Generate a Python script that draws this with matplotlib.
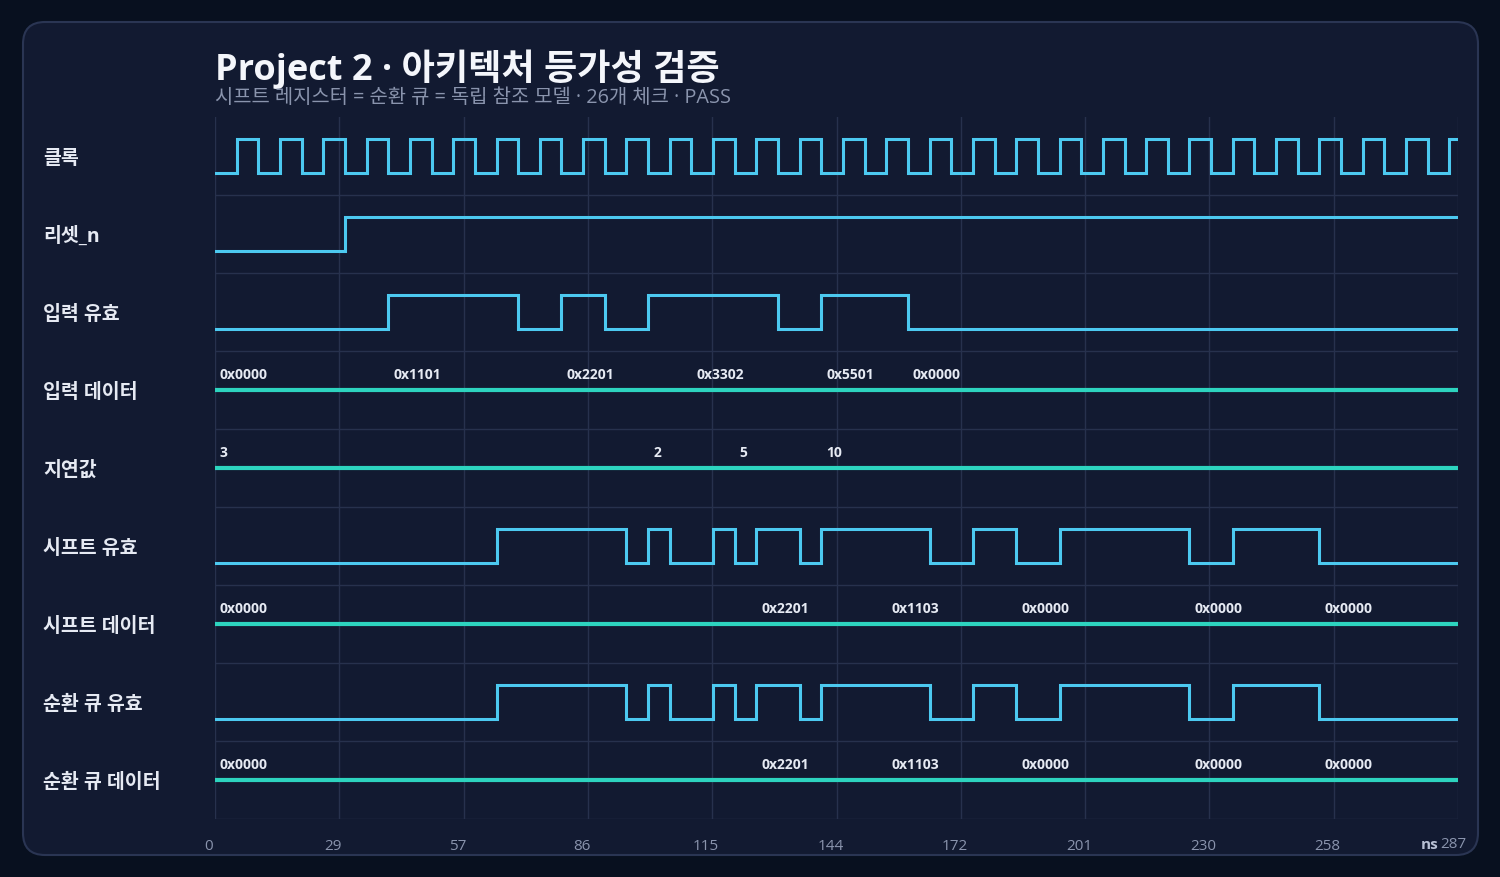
import matplotlib
matplotlib.use('Agg')
import matplotlib.pyplot as plt
from matplotlib.patches import FancyBboxPatch
from matplotlib import transforms

plt.rcParams['font.family'] = ['Open Sans', 'Noto Sans CJK KR', 'DejaVu Sans']

# ---- data (ns) ----
t_end = 287
row_names = ['클록', '리셋_n', '입력 유효', '입력 데이터', '지연값',
             '시프트 유효', '시프트 데이터', '순환 큐 유효', '순환 큐 데이터']

clock_edges = [5, 10, 15, 20, 25, 30, 35, 40, 45, 50, 55, 60, 65, 70, 75, 80,
               85, 90, 95, 100, 105, 110, 115, 120, 125, 130, 135, 140, 145,
               150, 155, 160, 165, 170, 175, 180, 185, 190, 195, 200, 205, 210,
               215, 220, 225, 230, 235, 240, 245, 250, 255, 260, 265, 270, 275,
               280, 285]
reset_edges = [30]
in_valid_edges = [40, 70, 80, 90, 100, 130, 140, 160]
in_data_t = [0, 40, 80, 110, 140, 160]
in_data_v = ['0x0000', '0x1101', '0x2201', '0x3302', '0x5501', '0x0000']
delay_t = [0, 100, 120, 140]
delay_v = ['3', '2', '5', '10']
shift_valid_edges = [65, 95, 100, 105, 115, 120, 125, 135, 140, 165, 175, 185,
                     195, 225, 235, 255]
shift_data_t = [0, 125, 155, 185, 225, 255]
shift_data_v = ['0x0000', '0x2201', '0x1103', '0x0000', '0x0000', '0x0000']
cq_valid_edges = [65, 95, 100, 105, 115, 120, 125, 135, 140, 165, 175, 185,
                  195, 225, 235, 255]
cq_data_t = [0, 125, 155, 185, 225, 255]
cq_data_v = ['0x0000', '0x2201', '0x1103', '0x0000', '0x0000', '0x0000']

x_ticks = [0, 28.7, 57.4, 86.1, 114.8, 143.5, 172.2, 200.9, 229.6, 258.3, 287]
x_labels = ['0', '29', '57', '86', '115', '144', '172', '201', '230', '258', '287']

# ---- colours ----
BG = '#08101f'
CARD = '#121a31'
BORDER = '#2a3553'
GRID = '#27314d'
WIRE = '#4cc9f0'
BUS = '#2dd4bf'
TXT = '#e6eaf3'
MUTED = '#8a94ad'

fig = plt.figure(figsize=(15, 8.78), dpi=100)
fig.patch.set_facecolor(BG)

bg = fig.add_axes([0, 0, 1, 1], zorder=-1)
bg.set_xlim(0, 1500)
bg.set_ylim(878, 0)
bg.axis('off')
bg.add_patch(FancyBboxPatch((23, 23), 1455, 833,
                            boxstyle='round,pad=0,rounding_size=22',
                            facecolor=CARD, edgecolor=BORDER, linewidth=1.5))

bg.text(215, 80, 'Project 2 · 아키텍처 등가성 검증', fontsize=26,
        fontweight='bold', color='#f4f6fb', va='baseline', ha='left')
bg.text(215, 103, '시프트 레지스터 = 순환 큐 = 독립 참조 모델 · 26개 체크 · PASS',
        fontsize=14.3, color=MUTED, va='baseline', ha='left')

ax = fig.add_axes([215 / 1500, 1 - 820 / 878, 1243 / 1500, 702 / 878])
ax.set_facecolor('none')
ax.set_xlim(0, t_end)
ax.set_ylim(len(row_names), 0)
for s in ax.spines.values():
    s.set_visible(False)

ax.set_yticks(range(1, len(row_names) + 1))
ax.set_yticklabels([])
ax.set_xticks(x_ticks)
ax.set_xticklabels(x_labels[:-1] + [''])
ax.tick_params(length=0, colors=MUTED, labelsize=11, pad=14)
shift = transforms.ScaledTranslation(-6 / 100, 0, fig.dpi_scale_trans)
for lab in ax.get_xticklabels():
    lab.set_transform(lab.get_transform() + shift)
ax.grid(True, color=GRID, linewidth=1)
ax.set_axisbelow(True)

HI, LO = 0.282, 0.718


def wire(row, edges, start=0):
    xs, ys = [0], [start]
    lvl = start
    for e in edges:
        lvl = 1 - lvl
        xs.append(e)
        ys.append(lvl)
    xs.append(t_end)
    ys.append(lvl)
    yy = [row + (HI if v else LO) for v in ys]
    ax.step(xs, yy, where='post', color=WIRE, linewidth=2.2,
            solid_joinstyle='miter', zorder=3)


def bus(row, ts, vals):
    ax.plot([0, t_end], [row + 0.5, row + 0.5], color=BUS, linewidth=3,
            solid_capstyle='butt', zorder=3)
    off = transforms.offset_copy(ax.transData, fig=fig, x=5, y=0, units='dots')
    for t, v in zip(ts, vals):
        ax.text(t, row + 0.295, v, transform=off, fontsize=10,
                fontweight='bold', color=TXT, ha='left', va='center', zorder=4)


wire(0, clock_edges)
wire(1, reset_edges)
wire(2, in_valid_edges)
bus(3, in_data_t, in_data_v)
bus(4, delay_t, delay_v)
wire(5, shift_valid_edges)
bus(6, shift_data_t, shift_data_v)
wire(7, cq_valid_edges)
bus(8, cq_data_t, cq_data_v)

lbl_tr = transforms.blended_transform_factory(bg.transData, ax.transData)
for i, name in enumerate(row_names):
    ax.text(43, i + 0.52, name, transform=lbl_tr, fontsize=14,
            fontweight='bold', color=TXT, ha='left', va='center')

# last tick label with unit
bg.text(1466, 845, '287', fontsize=11, color=MUTED, ha='right', va='center')
bg.text(1439, 845, 'ns', fontsize=11, fontweight='bold', color='#b8c0d4',
        ha='right', va='center')

fig.savefig('out.png', dpi=100, facecolor=BG)
